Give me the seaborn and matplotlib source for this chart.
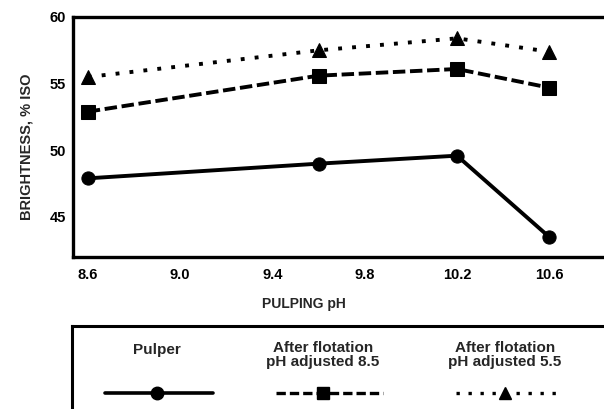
import matplotlib
matplotlib.use("Agg")
import matplotlib.pyplot as plt
import seaborn as sns
import pandas as pd

# Brightness of deinked pulp versus pulping pH
pulping_ph = [8.6, 9.6, 10.2, 10.6]
pulper = [47.9, 49.0, 49.6, 43.5]
flotation_ph85 = [52.9, 55.6, 56.1, 54.7]
flotation_ph55 = [55.5, 57.5, 58.4, 57.4]

series_names = ["Pulper", "After flotation\npH adjusted 8.5", "After flotation\npH adjusted 5.5"]
x_ticks = [8.6, 9.0, 9.4, 9.8, 10.2, 10.6]
x_tick_labels = ["8.6", "9.0", "9.4", "9.8", "10.2", "10.6"]
y_ticks = [45, 50, 55, 60]

sns.set_style("white")
plt.rcParams["font.family"] = ["Liberation Sans", "DejaVu Sans"]
plt.rcParams["font.weight"] = "bold"

W, H = 604, 409
fig = plt.figure(figsize=(W / 100, H / 100), dpi=100)
fig.patch.set_facecolor("white")

ax = fig.add_axes([73 / W, 1 - 257 / H, 1 - 73 / W, (257 - 17) / H])

styles = [
    dict(marker="o", linestyle="-"),
    dict(marker="s", linestyle=(0, (3.2, 1.2))),
    dict(marker="^", linestyle=(0, (1, 2.6))),
]
values = [pulper, flotation_ph85, flotation_ph55]

frames = []
for name, vals in zip(series_names, values):
    frames.append(pd.DataFrame({"pH": pulping_ph, "brightness": vals, "series": name}))
df = pd.concat(frames, ignore_index=True)

for name, st in zip(series_names, styles):
    sub = df[df["series"] == name]
    sns.lineplot(data=sub, x="pH", y="brightness", ax=ax, color="black",
                 linewidth=2.8, marker=st["marker"], markersize=9.5,
                 markeredgecolor="black", markerfacecolor="black",
                 linestyle=st["linestyle"], legend=False, clip_on=False)

ax.set_xlim(8.536, 8.6 + (W - 87.75) / 92.3 * 0.4)
ax.set_ylim(42, 60)
ax.set_xticks(x_ticks)
ax.set_xticklabels(x_tick_labels)
ax.set_yticks(y_ticks)
ax.tick_params(axis="both", direction="in", length=4, width=2, colors="black",
               labelsize=10.5)
ax.tick_params(axis="x", pad=8)
ax.tick_params(axis="y", pad=5)
for lab in ax.get_xticklabels() + ax.get_yticklabels():
    lab.set_fontweight("bold")

for side in ["left", "top", "bottom"]:
    ax.spines[side].set_visible(True)
    ax.spines[side].set_color("black")
    ax.spines[side].set_linewidth(2.4)
ax.spines["right"].set_visible(False)

ax.set_xlabel("PULPING pH", fontsize=10, fontweight="bold")
ax.set_ylabel("BRIGHTNESS, % ISO", fontsize=10.5, fontweight="bold")
ax.yaxis.set_label_coords(-0.075, 0.46)
ax.xaxis.set_label_coords(0.435, -0.165)

# Key box below the chart: names above their line samples
lax = fig.add_axes([72 / W, 0, 1.05 - 72 / W, (H - 326) / H])
lax.set_xlim(72, 72 + 1.05 * W - 72)
lax.set_ylim(0, H - 326)
lax.set_facecolor("none")
for side in ["left", "top"]:
    lax.spines[side].set_visible(True)
    lax.spines[side].set_color("black")
    lax.spines[side].set_linewidth(2.2)
for side in ["right", "bottom"]:
    lax.spines[side].set_visible(False)
lax.set_xticks([])
lax.set_yticks([])

key_centers = [157, 323, 505]
key_spans = [(105, 213), (276, 383), (456, 558)]
key_styles = [
    dict(marker="o", linestyle="-", lw=2.6, ms=9),
    dict(marker="s", linestyle=(0, (2.8, 1.2)), lw=2.4, ms=8),
    dict(marker="^", linestyle=(0, (1, 2.6)), lw=2.4, ms=8),
]
for name, cx, (x0, x1), st in zip(series_names, key_centers, key_spans, key_styles):
    ty = 59 if "\n" not in name else 54
    lax.text(cx, ty, name, ha="center", va="center", fontsize=11,
             fontweight="bold", linespacing=1.0)
    lax.plot([x0, cx, x1], [16, 16, 16], color="black", linestyle=st["linestyle"],
             linewidth=st["lw"], marker=st["marker"], markersize=st["ms"],
             markevery=[1], clip_on=False)

fig.savefig("out.png", dpi=100)
